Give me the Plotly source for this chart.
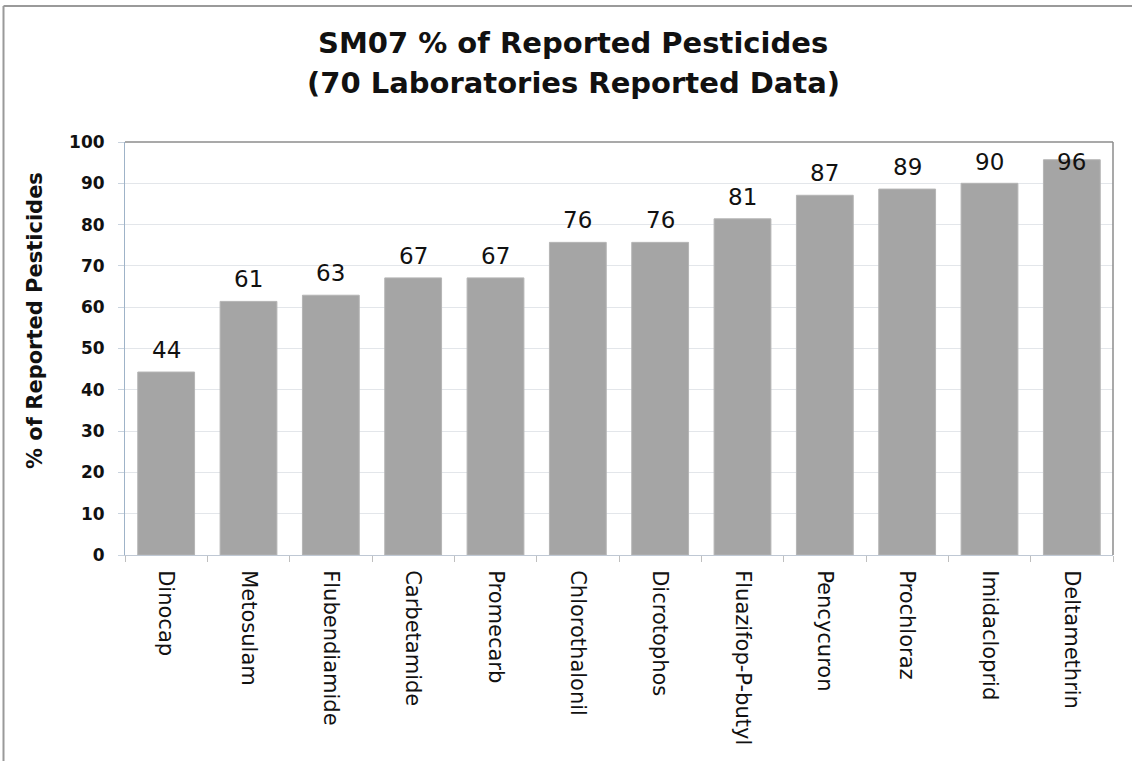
import plotly.graph_objects as go

# Share of laboratories reporting each pesticide (SM07, 70 labs)
pesticides = [
    "Dinocap", "Metosulam", "Flubendiamide", "Carbetamide", "Promecarb",
    "Chlorothalonil", "Dicrotophos", "Fluazifop-P-butyl", "Pencycuron",
    "Prochloraz", "Imidacloprid", "Deltamethrin",
]
pct_reported = [44.3, 61.4, 62.9, 67.1, 67.1, 75.7, 75.7, 81.4, 87.1, 88.6, 90.0, 95.7]

y_ticks = [0, 10, 20, 30, 40, 50, 60, 70, 80, 90, 100]

title_lines = ["SM07 % of Reported Pesticides", "(70 Laboratories Reported Data)"]
y_title = "% of Reported Pesticides"

FONT = "'DejaVu Sans', sans-serif"

# plot area in pixels: x 125..1113, y 142..555
L, R, T, B = 125, 19, 142, 206
W, H = 1132, 761
PW, PH = W - L - R, H - T - B


def px(x):
    return (x - L) / PW


def py(y):
    return (H - B - y) / PH


fig = go.Figure(
    go.Bar(
        x=pesticides,
        y=pct_reported,
        marker=dict(color="#A5A5A5", line=dict(color="#B5B5B5", width=1)),
        hoverinfo="x+y",
    )
)

# value labels above each bar; labels near the top stay inside the plot area
label_cap = 89.8
for name, v in zip(pesticides, pct_reported):
    fig.add_annotation(
        x=name, y=min(v, label_cap), xref="x", yref="y",
        text=f"{v:.0f}", showarrow=False,
        yanchor="bottom", yshift=7,
        font=dict(family=FONT, size=23, color="#111111"),
    )

# two-line chart title
for line, yc in zip(title_lines, [43, 83]):
    fig.add_annotation(
        x=px(573), y=py(yc), xref="paper", yref="paper",
        text=f"<b>{line}</b>", showarrow=False,
        xanchor="center", yanchor="middle",
        font=dict(family=FONT, size=29, color="#111111"),
    )

# y-axis title
fig.add_annotation(
    x=px(35), y=py(321), xref="paper", yref="paper",
    text=f"<b>{y_title}</b>", showarrow=False, textangle=-90,
    xanchor="center", yanchor="middle",
    font=dict(family=FONT, size=21, color="#111111"),
)

fig.update_layout(
    width=W,
    height=H,
    margin=dict(l=L, r=R, t=T, b=B),
    paper_bgcolor="white",
    plot_bgcolor="white",
    bargap=0.31,
    showlegend=False,
    xaxis=dict(
        type="category",
        tickangle=90,
        tickfont=dict(family=FONT, size=21, color="#111111"),
        ticklabelstandoff=10,
        showline=True,
        linecolor="#BFC8D4",
        linewidth=1,
        ticks="outside",
        ticklen=6,
        tickcolor="#BFBFBF",
        tickson="boundaries",
        showgrid=False,
    ),
    yaxis=dict(
        range=[0, 100],
        tickvals=y_ticks,
        tickfont=dict(family=FONT, size=17, color="#111111", weight="bold"),
        ticklabelstandoff=10,
        showline=True,
        linecolor="#9FB3C8",
        linewidth=1,
        ticks="outside",
        ticklen=6,
        tickcolor="#C9D3DE",
        showgrid=True,
        gridcolor="#E3E6EA",
        gridwidth=1,
        zeroline=False,
    ),
    shapes=[
        # plot area frame: top and right edges
        dict(type="line", xref="paper", yref="paper", x0=0, x1=1, y0=1, y1=1,
             line=dict(color="#8C8C8C", width=1.5)),
        dict(type="line", xref="paper", yref="paper", x0=1, x1=1, y0=0, y1=1,
             line=dict(color="#8C8C8C", width=1.5)),
        # chart frame: left and top edges
        dict(type="line", xref="paper", yref="paper", x0=px(3.5), x1=px(3.5),
             y0=py(W), y1=py(6), line=dict(color="#9A9A9A", width=2)),
        dict(type="line", xref="paper", yref="paper", x0=px(3.5), x1=px(W + 10),
             y0=py(6), y1=py(6), line=dict(color="#9A9A9A", width=2)),
    ],
)

fig.write_html("out.html")
